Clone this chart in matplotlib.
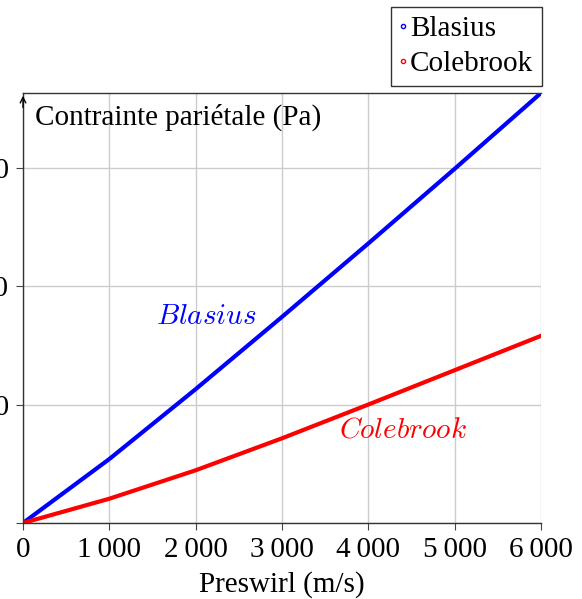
import matplotlib

matplotlib.use("Agg")
import matplotlib.pyplot as plt
from matplotlib.lines import Line2D

plt.rcParams["font.family"] = ["Liberation Serif", "DejaVu Serif"]
plt.rcParams["mathtext.fontset"] = "cm"

# preswirl speed (m/s) and wall shear stress (tick units of 10)
preswirl = [0, 1000, 2000, 3000, 4000, 5000, 6000]
blasius = [0, 5.4, 11.3, 17.4, 23.6, 29.9, 36.3]
colebrook = [0, 2.05, 4.45, 7.15, 10.0, 12.9, 15.8]

xticks = [0, 1000, 2000, 3000, 4000, 5000, 6000]
xtick_labels = ["0", "1\u2009000", "2\u2009000", "3\u2009000", "4\u2009000", "5\u2009000", "6\u2009000"]
yticks = [0, 10, 20, 30]
ytick_labels = ["", "10", "20", "30"]

FS = 21

fig = plt.figure(figsize=(5.82, 5.99), dpi=100)
ax = fig.add_axes([23 / 582, 1 - 523 / 599, 518 / 582, 430 / 599])

ax.plot(preswirl, blasius, color="blue", lw=3.0, solid_capstyle="round", solid_joinstyle="round")
ax.plot(preswirl, colebrook, color="red", lw=3.0, solid_capstyle="round", solid_joinstyle="round")

ax.set_xlim(0, 6000)
ax.set_ylim(0, 36.3)
ax.set_xticks(xticks)
ax.set_xticklabels(xtick_labels, fontsize=FS)
ax.set_yticks(yticks)
ax.set_yticklabels(ytick_labels, fontsize=FS)
ax.tick_params(direction="out", length=5, width=0.8, color="#444444", pad=5)
ax.grid(True, color="#cccccc", lw=1.0)
ax.set_axisbelow(True)

for s in ("left", "bottom", "top"):
    ax.spines[s].set_color("#333333")
    ax.spines[s].set_linewidth(1.0)
ax.spines["right"].set_visible(False)

# arrow on the y axis
ax.annotate("", xy=(0, 1.0), xytext=(0, 0.96), xycoords="axes fraction",
            arrowprops=dict(arrowstyle="->", color="black", lw=1.0), annotation_clip=False)

ax.set_xlabel("Preswirl (m/s)", fontsize=FS, labelpad=6)
ax.text(0.023, 0.975, "Contrainte pariétale (Pa)", transform=ax.transAxes,
        fontsize=FS, va="top", ha="left")

ax.text(2130, 17.4, r"$Blasius$", color="blue", fontsize=FS, ha="center", va="center")
ax.text(4400, 7.85, r"$Colebrook$", color="red", fontsize=FS, ha="center", va="center")

handles = [
    Line2D([], [], ls="none", marker="o", ms=3, mfc="white", mec="blue", mew=1.0),
    Line2D([], [], ls="none", marker="o", ms=3, mfc="white", mec="red", mew=1.0),
]
leg = fig.legend(handles, ["Blasius", "Colebrook"], loc="upper right",
                 bbox_to_anchor=(542 / 582, 1 - 7 / 599), fontsize=FS,
                 frameon=True, fancybox=False, handlelength=0.2, handletextpad=0.15,
                 borderpad=0.3, labelspacing=0.3, borderaxespad=0)
leg.get_frame().set_edgecolor("black")
leg.get_frame().set_linewidth(1.0)

fig.savefig("out.png", dpi=100)
